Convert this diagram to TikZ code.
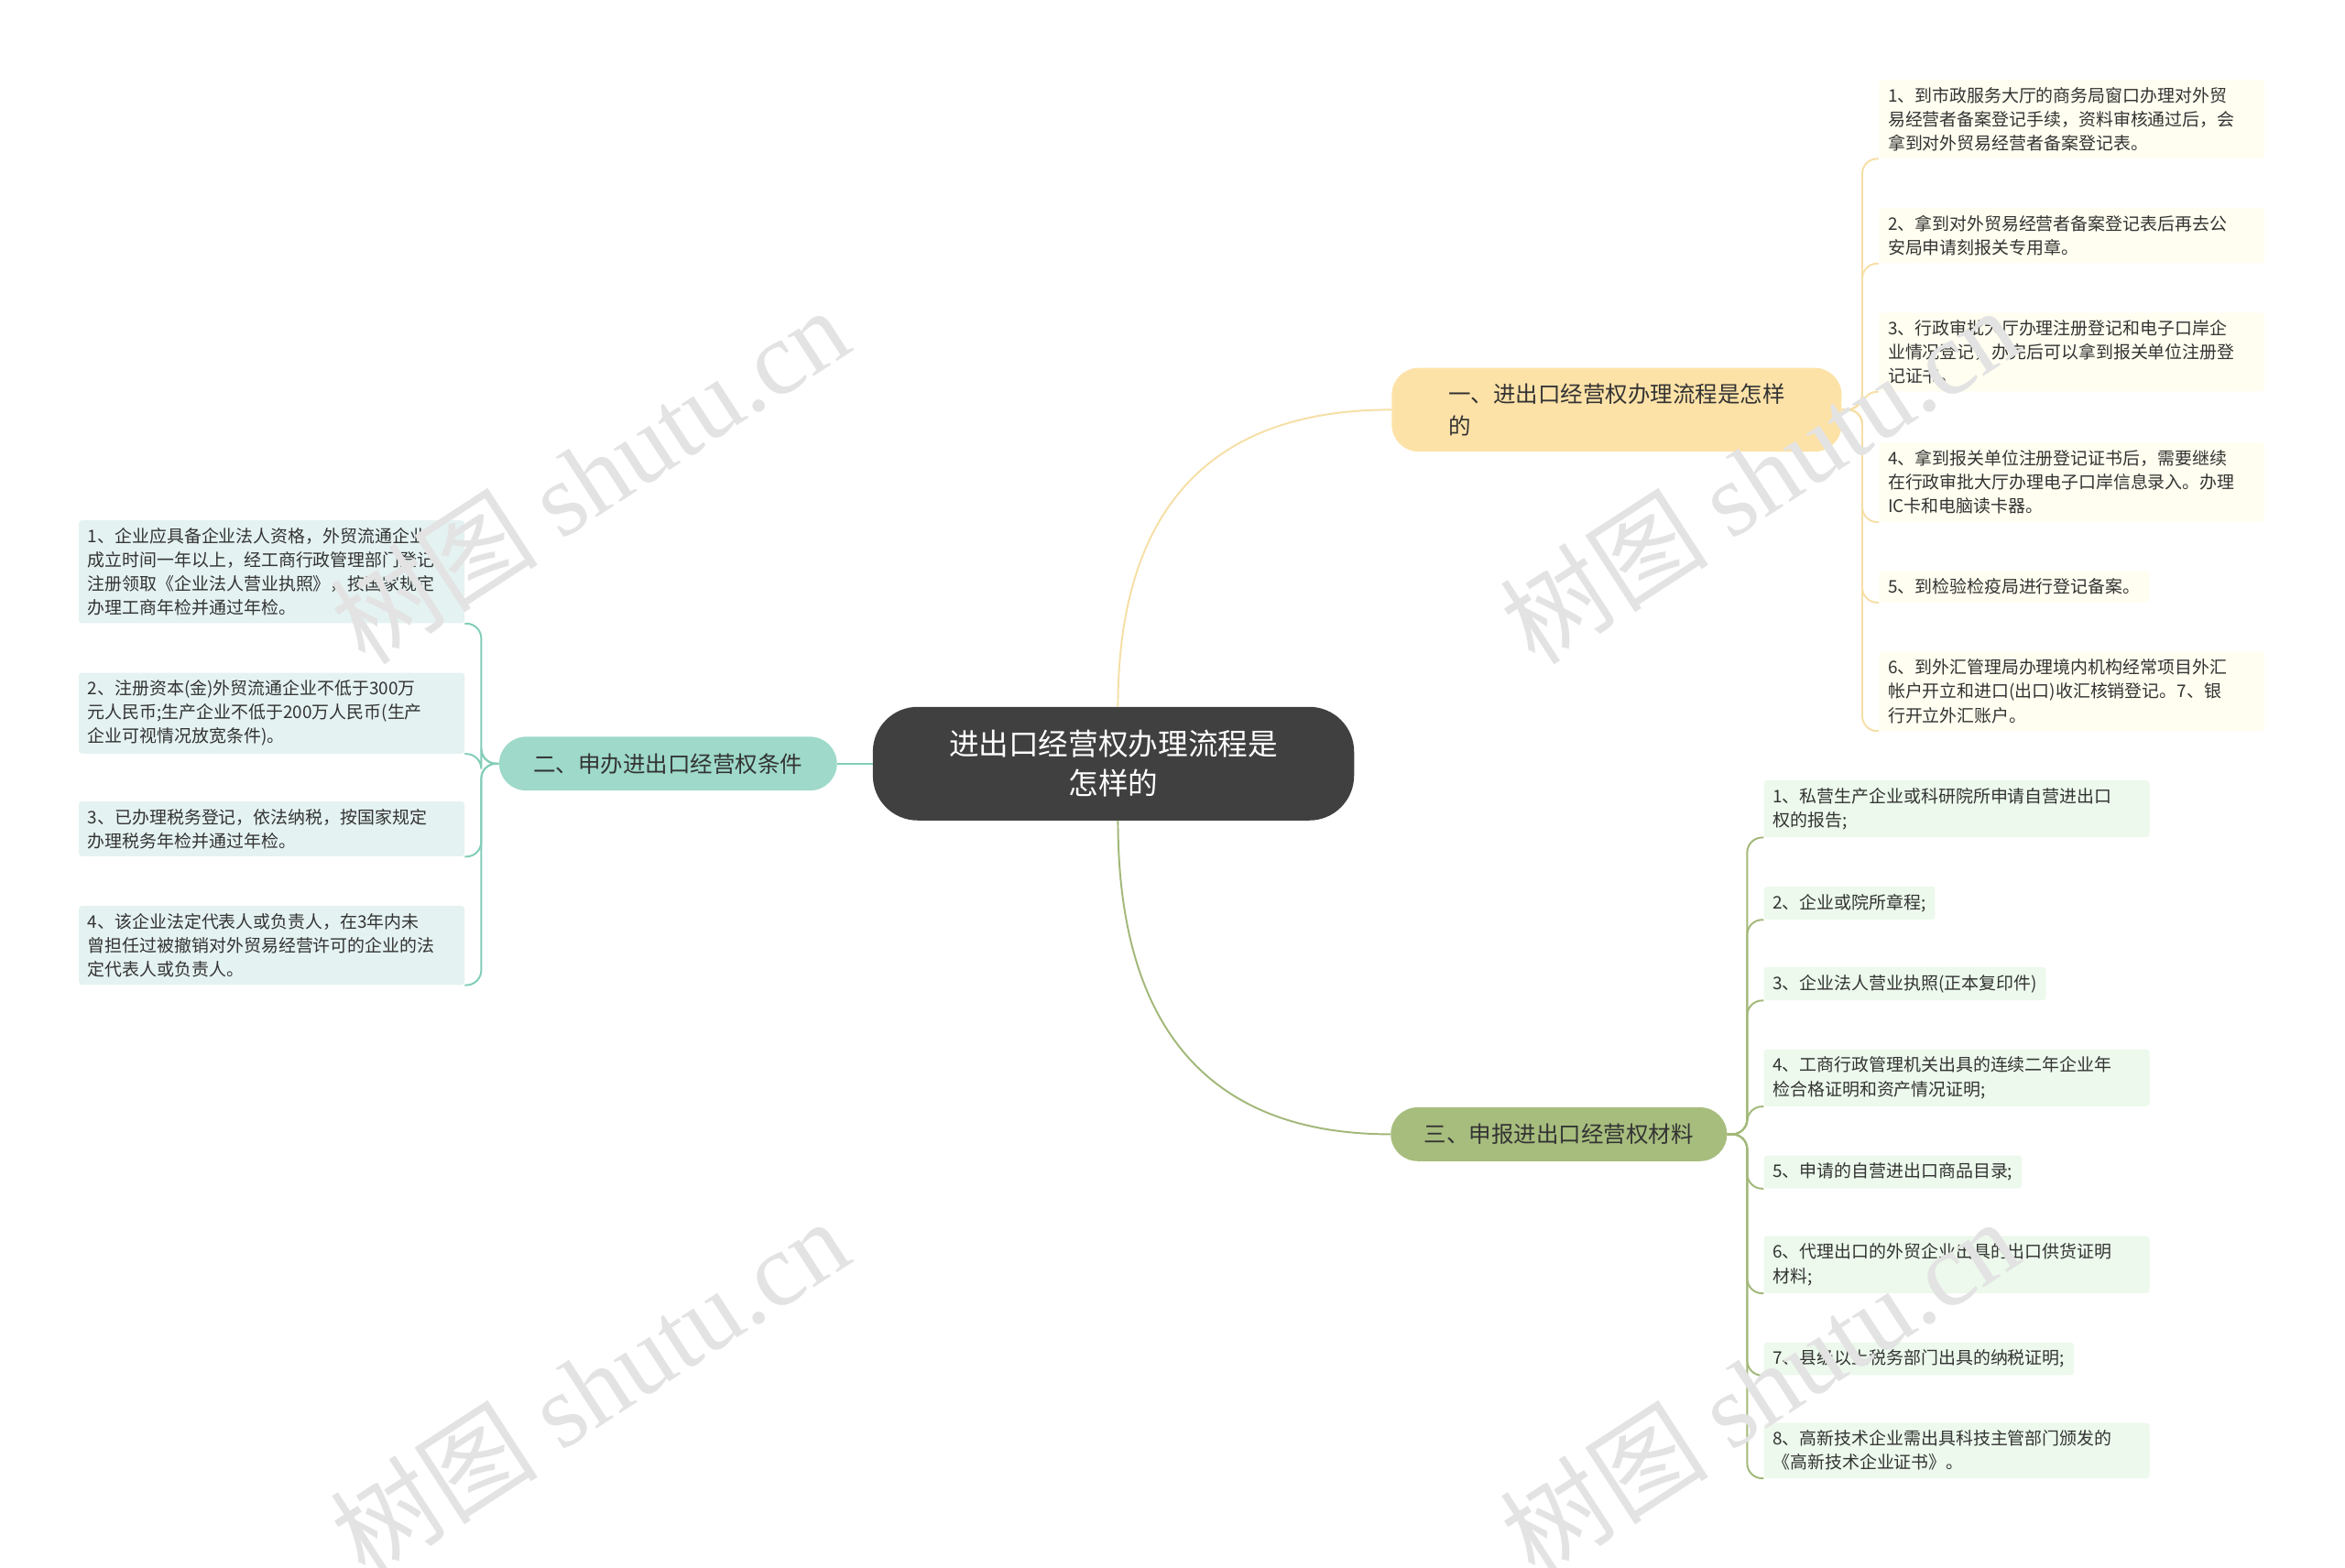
\documentclass[tikz,border=0pt]{standalone}
\usepackage{fontspec}
\setmainfont{Noto Sans CJK SC}
\newfontfamily\wmfont{Liberation Serif}
\definecolor{yfill}{HTML}{FDE2A8}
\definecolor{tfill}{HTML}{9ED9C9}
\definecolor{gfill}{HTML}{A7BD7E}
\definecolor{yline}{HTML}{F6DFA6}
\definecolor{tline}{HTML}{82CDB8}
\definecolor{gline}{HTML}{A2B879}
\begin{document}
\begin{tikzpicture}[x=1pt,y=-1pt,
 leaf/.style={anchor=north west,align=left,inner xsep=6pt,inner ysep=5pt,font=\fontsize{11.6}{16}\selectfont,text=black!80,rounded corners=2pt},
 ly/.style={leaf,fill=yellow!6!white},
 lg/.style={leaf,fill=green!50!gray!10!white},
 lt/.style={leaf,fill=teal!10!white},
 br/.style={rounded corners=18pt,font=\fontsize{15}{21}\selectfont,inner sep=8pt,text=black!80},
 cy/.style={draw=yline,line width=1.2pt},
 cg/.style={draw=gline,line width=1.2pt},
 ct/.style={draw=tline,line width=1.2pt},
 wm/.style={text=gray!22,font=\fontsize{70}{70}\selectfont,rotate=33}]
\useasboundingbox (0,0) rectangle (1569,1049);
% center
\node[fill=black!75,text=white,rounded corners=30pt,minimum width=322pt,minimum height=76pt,align=center,font=\fontsize{20}{26}\selectfont] (c) at (745,511) {进出口经营权办理流程是\\怎样的};
\node[br,fill=yfill,minimum width=301pt,minimum height=56pt,align=left,anchor=north west,inner xsep=28pt] (b1) at (931,246) {一、进出口经营权办理流程是怎样\\的};
\node[br,fill=tfill,minimum width=226pt,minimum height=36pt] (b2) at (447,511) {二、申办进出口经营权条件};
\node[br,fill=gfill,minimum width=225pt,minimum height=36pt] (b3) at (1043,759) {三、申报进出口经营权材料};
\draw[cy] (748,473) .. controls (748,330) and (820,274) .. (b1.west);
\draw[cg] (748,549) .. controls (748,700) and (820,759) .. (b3.west);
\draw[ct] (c.west) -- (b2.east);
% right top
\node[ly,text width=246pt] (y1) at (1257,53) {1、到市政服务大厅的商务局窗口办理对外贸\\易经营者备案登记手续，资料审核通过后，会\\拿到对外贸易经营者备案登记表。};
\node[ly,text width=246pt] (y2) at (1257,139) {2、拿到对外贸易经营者备案登记表后再去公\\安局申请刻报关专用章。};
\node[ly,text width=246pt] (y3) at (1257,209) {3、行政审批大厅办理注册登记和电子口岸企\\业情况登记，办完后可以拿到报关单位注册登\\记证书。};
\node[ly,text width=246pt] (y4) at (1257,296) {4、拿到报关单位注册登记证书后，需要继续\\在行政审批大厅办理电子口岸信息录入。办理\\IC卡和电脑读卡器。};
\node[ly] (y5) at (1257,382) {5、到检验检疫局进行登记备案。};
\node[ly,text width=246pt] (y6) at (1257,436) {6、到外汇管理局办理境内机构经常项目外汇\\帐户开立和进口(出口)收汇核销登记。7、银\\行开立外汇账户。};
\foreach \n in {y1,y2,y3,y4,y5,y6}
 \draw[cy,rounded corners=10pt] (b1.east) -- (1246,274) |- (\n.south west);
% right bottom
\node[lg,text width=246pt] (g1) at (1180,522) {1、私营生产企业或科研院所申请自营进出口\\权的报告;};
\node[lg] (g2) at (1180,593) {2、企业或院所章程;};
\node[lg] (g3) at (1180,647) {3、企业法人营业执照(正本复印件)};
\node[lg,text width=246pt] (g4) at (1180,702) {4、工商行政管理机关出具的连续二年企业年\\检合格证明和资产情况证明;};
\node[lg] (g5) at (1180,773) {5、申请的自营进出口商品目录;};
\node[lg,text width=246pt] (g6) at (1180,827) {6、代理出口的外贸企业出具的出口供货证明\\材料;};
\node[lg] (g7) at (1180,898) {7、县级以上税务部门出具的纳税证明;};
\node[lg,text width=246pt] (g8) at (1180,952) {8、高新技术企业需出具科技主管部门颁发的\\《高新技术企业证书》。};
\foreach \n in {g1,g2,g3,g4,g5,g6,g7,g8}
 \draw[cg,rounded corners=10pt] (b3.east) -- (1169,759) |- (\n.south west);
% left
\node[lt,text width=246pt,anchor=north east] (t1) at (311,348) {1、企业应具备企业法人资格，外贸流通企业\\成立时间一年以上，经工商行政管理部门登记\\注册领取《企业法人营业执照》，按国家规定\\办理工商年检并通过年检。};
\node[lt,text width=246pt,anchor=north east] (t2) at (311,450) {2、注册资本(金)外贸流通企业不低于300万\\元人民币;生产企业不低于200万人民币(生产\\企业可视情况放宽条件)。};
\node[lt,text width=246pt,anchor=north east] (t3) at (311,536) {3、已办理税务登记，依法纳税，按国家规定\\办理税务年检并通过年检。};
\node[lt,text width=246pt,anchor=north east] (t4) at (311,606) {4、该企业法定代表人或负责人，在3年内未\\曾担任过被撤销对外贸易经营许可的企业的法\\定代表人或负责人。};
\foreach \n in {t1,t2,t3,t4}
 \draw[ct,rounded corners=10pt] (b2.west) -- (322,511) |- (\n.south east);
% watermarks
\foreach \p in {(394,318),(1177,318),(394,928),(1177,928)}
 \node[wm] at \p {树图 {\wmfont shutu.cn}};
\end{tikzpicture}
\end{document}
